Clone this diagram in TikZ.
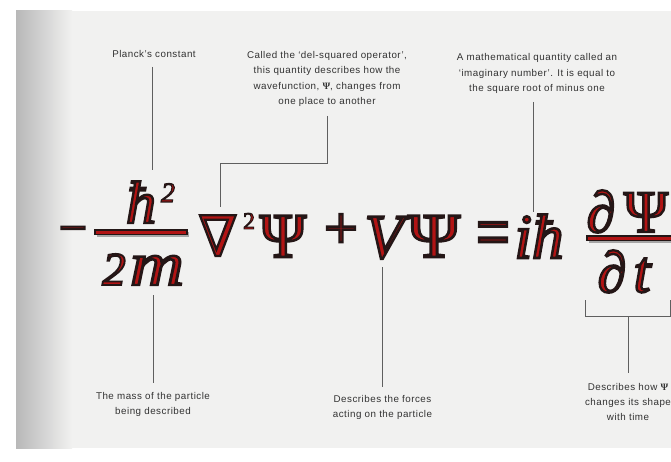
\documentclass[tikz,border=0pt]{standalone}
\usepackage{fontspec}
\setmainfont{Liberation Sans}
\newfontfamily\capf[LetterSpace=5]{Liberation Sans}
\newfontfamily\eqf[FakeBold=4]{Liberation Serif}
\newfontfamily\nabf[FakeBold=4]{DejaVu Serif}
\newfontfamily\capserif{Liberation Serif}
\definecolor{pagebg}{RGB}{241,241,240}
\definecolor{eqred}{RGB}{178,20,20}
\definecolor{edge}{RGB}{35,22,22}
\definecolor{captxt}{RGB}{50,50,50}
\definecolor{leadc}{RGB}{95,95,95}
\newcommand\fs[1]{\fontsize{#1}{#1}\selectfont}
\newcommand\eqit{\eqf\itshape}
\newcommand\fx[1]{{\color{eqred}\special{pdf:literal direct 0.14 0.086 0.086 RG}#1}}
\tikzset{
 glyph/.style={inner sep=0pt, outer sep=0pt, anchor=base},
 captionbox/.style={font=\capf\fontsize{9.8}{15.2}\selectfont, text=captxt, align=center, inner sep=0pt},
 leaderline/.style={draw=leadc, line width=0.6pt},
 fbar/.style={fill=eqred, draw=edge, line width=1.2pt},
 fbarshadow/.style={fill=black!35}
}
\begin{document}
\begin{tikzpicture}[x=1pt,y=-1pt]
\useasboundingbox (0,0) rectangle (671,462);
\clip (0,0) rectangle (671,462);
\fill[white] (0,0) rectangle (671,462);
\fill[pagebg] (16,11) rectangle (671,448);
\shade[left color=black!28, right color=pagebg] (16,11) rectangle (72,448);

% fraction bars
\fill[fbarshadow] (97,232) rectangle (189,237);
\path[fbar] (95,230) rectangle (187,234.5);
\fill[fbarshadow] (589,238) rectangle (680,243);
\path[fbar] (587,236) rectangle (680,240.5);

% equation glyphs
\node[glyph] (minus) at (73,244.5) {\eqf\fs{50}\fx{−}};
\node[glyph] (hbar) at (141,223) {\eqit\fs{60}\fx{ħ}};
\node[glyph] (sqa) at (168,202) {\eqit\fs{28}\fx{2}};
\node[glyph] (two) at (114,285) {\eqit\fs{47}\fx{2}};
\node[glyph] (m) at (157,285) {\eqit\fs{62}\fx{\scalebox{1.2}[1]{m}}};
\node[glyph] (nabla) at (218,256) {\nabf\fs{56}\fx{∇}};
\node[glyph] (sqb) at (249,229) {\eqf\fs{24}\fx{2}};
\node[glyph] (psia) at (283,257) {\eqf\fs{63}\fx{Ψ}};
\node[glyph] (plus) at (341,248) {\eqf\fs{60}\fx{+}};
\node[glyph] (V) at (384,258) {\eqit\fs{63}\fx{V}};
\node[glyph] (psib) at (434,257) {\eqf\fs{63}\fx{\scalebox{1.12}[1]{Ψ}}};
\node[glyph] (eq) at (493,258) {\eqf\fs{60}\fx{\scalebox{1}[1.3]{=}}};
\node[glyph] (ihbar) at (539,258) {\eqit\fs{63}\fx{iħ}};
\node[glyph] (pda) at (601,232) {\eqit\fs{58}\fx{∂}};
\node[glyph] (psic) at (646,232) {\eqf\fs{60}\fx{Ψ}};
\node[glyph] (pdb) at (612,292) {\eqit\fs{58}\fx{∂}};
\node[glyph] (t) at (642,292) {\eqit\fs{60}\fx{t}};

% captions
\node[captionbox] (planck) at (154,54) {Planck’s constant};
\node[captionbox] (del) at (327,79) {Called the ‘del-squared operator’,\\ this quantity describes how the\\ wavefunction, {\capserif\bfseries Ψ}, changes from\\ one place to another};
\node[captionbox] (imag) at (537,73.5) {A mathematical quantity called an\\ ‘imaginary number’. It is equal to\\ the square root of minus one};
\node[captionbox] (mass) at (153,404.5) {The mass of the particle\\ being described};
\node[captionbox] (forces) at (382.5,407.5) {Describes the forces\\ acting on the particle};
\node[captionbox] (shape) at (628,402) {Describes how {\capserif\bfseries Ψ}\\ changes its shape\\ with time};

% connectors
\coordinate (c1a) at (152,67);  \coordinate (c1b) at (152,170);
\draw[leaderline] (c1a) -- (c1b);
\coordinate (c2a) at (327,116); \coordinate (c2b) at (327,163);
\coordinate (c2c) at (220,163); \coordinate (c2d) at (220,207);
\draw[leaderline] (c2a) -- (c2b) -- (c2c) -- (c2d);
\coordinate (c3a) at (533,102); \coordinate (c3b) at (533,212);
\draw[leaderline] (c3a) -- (c3b);
\coordinate (c4a) at (153,295); \coordinate (c4b) at (153,383);
\draw[leaderline] (c4a) -- (c4b);
\coordinate (c5a) at (382,267); \coordinate (c5b) at (382,387);
\draw[leaderline] (c5a) -- (c5b);
\coordinate (c6a) at (585,300); \coordinate (c6b) at (585,316);
\coordinate (c6c) at (670,316); \coordinate (c6d) at (670,300);
\draw[leaderline] (c6a) -- (c6b) -- (c6c) -- (c6d);
\coordinate (c6m) at (628,316); \coordinate (c6e) at (628,373);
\draw[leaderline] (c6m) -- (c6e);
\end{tikzpicture}
\end{document}
